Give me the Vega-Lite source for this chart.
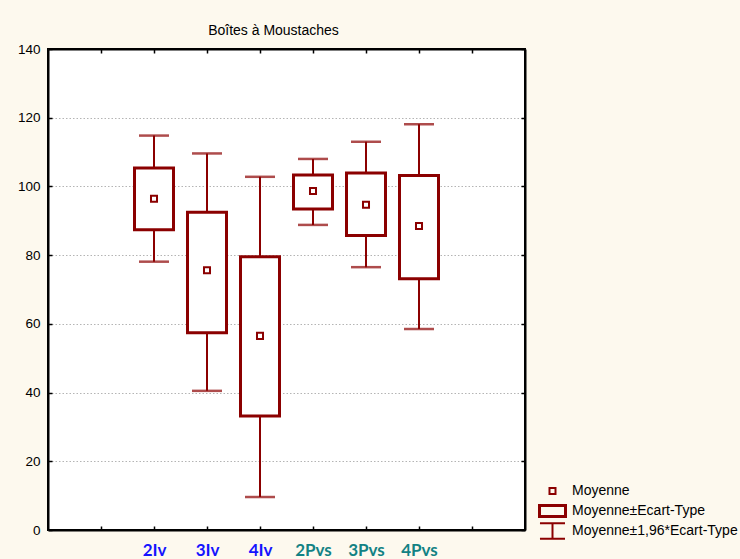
{
  "$schema": "https://vega.github.io/schema/vega-lite/v6.json",
  "autosize": "none",
  "width": 477,
  "height": 481,
  "padding": {"left": 48, "top": 49, "right": 215, "bottom": 29},
  "background": "#fdf9ee",
  "title": {"text": "Boîtes à Moustaches", "font": "Liberation Sans", "fontSize": 14, "fontWeight": "normal", "color": "black", "offset": 4, "dx": -13, "frame": "group", "anchor": "middle"},
  "config": {
    "view": {"stroke": "black", "strokeWidth": 2, "fill": "white"},
    "axis": {"domainColor": "black", "domainWidth": 2, "tickColor": "black", "tickWidth": 1.5, "labelFont": "Liberation Sans", "labelColor": "black"}
  },
  "data": {"values": [
    {"g": "2Iv", "mean": 96.4, "sdLo": 87.4, "sdHi": 105.4, "ciLo": 78.1, "ciHi": 114.8},
    {"g": "3Iv", "mean": 75.6, "sdLo": 57.4, "sdHi": 92.5, "ciLo": 40.5, "ciHi": 109.6},
    {"g": "4Iv", "mean": 56.5, "sdLo": 33.2, "sdHi": 79.5, "ciLo": 9.6, "ciHi": 102.8},
    {"g": "2Pvs", "mean": 98.7, "sdLo": 93.4, "sdHi": 103.3, "ciLo": 88.8, "ciHi": 108.0},
    {"g": "3Pvs", "mean": 94.7, "sdLo": 85.7, "sdHi": 103.9, "ciLo": 76.5, "ciHi": 113.0},
    {"g": "4Pvs", "mean": 88.5, "sdLo": 73.1, "sdHi": 103.2, "ciLo": 58.5, "ciHi": 118.1}
  ]},
  "resolve": {"axis": {"x": "independent", "y": "independent"}},
  "layer": [
    {
      "mark": {"type": "rule", "color": "#8b0000", "strokeWidth": 2},
      "encoding": {
        "x": {"field": "g", "type": "nominal", "sort": null,
          "scale": {"type": "point", "padding": 1, "domain": ["a", "2Iv", "3Iv", "4Iv", "2Pvs", "3Pvs", "4Pvs", "b"]},
          "axis": {"orient": "bottom", "title": null, "tickSize": -4, "labelPadding": 16, "labelAngle": 0, "labelOverlap": false,
            "labelExpr": "datum.value == 'a' || datum.value == 'b' ? '' : datum.value",
            "labelFont": "Lato", "labelFontWeight": "bold", "labelFontSize": 17,
            "labelColor": {"condition": {"test": "indexof(datum.value, 'Pvs') >= 0", "value": "#128284"}, "value": "#1414ff"}}},
        "y": {"field": "ciLo", "type": "quantitative",
          "scale": {"domain": [0, 140], "nice": false, "zero": false},
          "axis": {"orient": "left", "title": null, "values": [0, 20, 40, 60, 80, 100, 120, 140], "tickSize": -4, "labelPadding": 12, "labelFontSize": 13.5,
            "grid": true, "gridColor": "#b4b4b4", "gridDash": [1.5, 2], "gridWidth": 1}},
        "y2": {"field": "ciHi"}
      }
    },
    {
      "mark": {"type": "tick", "color": "#8b0000", "size": 30, "thickness": 2.5},
      "encoding": {
        "x": {"field": "g", "type": "nominal", "sort": null,
          "axis": {"orient": "top", "title": null, "tickSize": -4, "labels": false, "grid": false}},
        "y": {"field": "ciHi", "type": "quantitative",
          "axis": {"orient": "right", "title": null, "values": [0, 20, 40, 60, 80, 100, 120, 140], "tickSize": -4, "labels": false, "grid": false}}
      }
    },
    {
      "mark": {"type": "tick", "color": "#8b0000", "size": 30, "thickness": 2.5},
      "encoding": {
        "x": {"field": "g", "type": "nominal", "sort": null, "axis": null},
        "y": {"field": "ciLo", "type": "quantitative", "axis": null}
      }
    },
    {
      "mark": {"type": "bar", "width": 39, "fill": "white", "stroke": "#8b0000", "strokeWidth": 3},
      "encoding": {
        "x": {"field": "g", "type": "nominal", "sort": null, "axis": null},
        "y": {"field": "sdLo", "type": "quantitative", "axis": null},
        "y2": {"field": "sdHi"}
      }
    },
    {
      "mark": {"type": "point", "size": 196, "filled": false, "opacity": 1},
      "encoding": {
        "x": {"field": "g", "type": "nominal", "sort": null, "axis": null},
        "y": {"field": "mean", "type": "quantitative", "axis": null},
        "color": {"datum": "Moyenne",
          "scale": {"domain": ["Moyenne", "Moyenne±Ecart-Type", "Moyenne±1,96*Ecart-Type"], "range": ["#8b0000", "#8b0000", "#8b0000"]},
          "legend": {"title": null, "orient": "none", "legendX": 488, "legendY": 432, "symbolSize": 196, "clipHeight": 20, "symbolOffset": 8,
            "labelFont": "Liberation Sans", "labelFontSize": 14, "labelColor": "black", "labelOffset": 11, "rowPadding": 0, "labelLimit": 400}},
        "shape": {"datum": "Moyenne",
          "scale": {"domain": ["Moyenne", "Moyenne±Ecart-Type", "Moyenne±1,96*Ecart-Type"],
            "range": ["M-0.43,-0.43H0.43V0.43H-0.43Z", "M-1.86,-0.79H1.86V0.79H-1.86Z", "M-1.79,-1.1H1.79M0,-1.1V1.1M-1.79,1.1H1.79"]},
          "legend": {"title": null, "orient": "none", "legendX": 488, "legendY": 432, "symbolSize": 196, "clipHeight": 20, "symbolOffset": 8,
            "labelFont": "Liberation Sans", "labelFontSize": 14, "labelColor": "black", "labelOffset": 11, "rowPadding": 0, "labelLimit": 400}},
        "strokeWidth": {"datum": "Moyenne", "type": "ordinal",
          "scale": {"type": "ordinal", "domain": ["Moyenne", "Moyenne±Ecart-Type", "Moyenne±1,96*Ecart-Type"], "range": [2, 3, 2]},
          "legend": {"title": null, "orient": "none", "legendX": 488, "legendY": 432, "symbolSize": 196, "clipHeight": 20, "symbolOffset": 8,
            "labelFont": "Liberation Sans", "labelFontSize": 14, "labelColor": "black", "labelOffset": 11, "rowPadding": 0, "labelLimit": 400}}
      }
    }
  ]
}
